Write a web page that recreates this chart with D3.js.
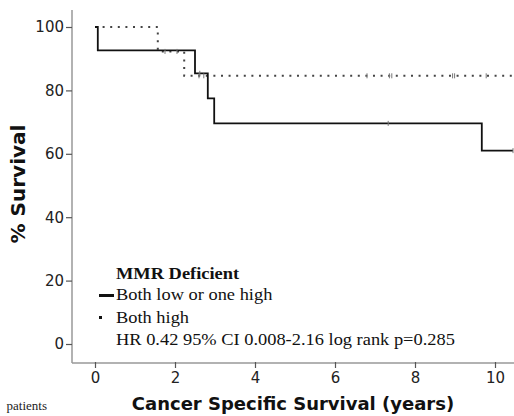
<!DOCTYPE html>
<html>
<head>
<meta charset="utf-8">
<script src="https://d3js.org/d3.v7.min.js"></script>
<style>
  body { margin: 0; background: #fff; }
  svg { display: block; }
</style>
</head>
<body>
<svg width="514" height="416"></svg>
<script>
// survival steps (time in years, % surviving)
const solidTimes = [0, 0.07, 2.5, 2.82, 2.98, 9.67, 10.45];
const solidSurv = [100, 92.6, 85.4, 77.5, 69.6, 61.0, 61.0];
const solidCensored = [[2.62, 85.4], [7.33, 69.6], [10.45, 61.0]];

const dottedTimes = [0, 1.57, 2.23, 10.5];
const dottedSurv = [100, 92.3, 84.6, 84.6];
const dottedCensored = [[1.75, 92.3], [2.05, 92.3], [2.6, 84.6], [2.72, 84.6],
  [6.8, 84.6], [7.36, 84.6], [7.42, 84.6], [8.94, 84.6], [8.99, 84.6], [9.78, 84.6]];

const xTicks = [0, 2, 4, 6, 8, 10];
const yTicks = [0, 20, 40, 60, 80, 100];

const legendTitle = 'MMR Deficient';
const legendLabels = ['Both low or one high', 'Both high'];
const statsText = 'HR 0.42 95% CI 0.008-2.16 log rank p=0.285';

let svg = d3.select('svg');

let x = d3.scaleLinear().domain([0, 10]).range([95, 495]);
let y = d3.scaleLinear().domain([0, 100]).range([344, 27]);

let axisLeftX = 72;
let axisBottomY = 363;

// axis lines
svg.append('line')
  .attr('x1', axisLeftX).attr('x2', axisLeftX)
  .attr('y1', 10).attr('y2', axisBottomY)
  .attr('stroke', '#999').attr('stroke-width', 1.5);
svg.append('line')
  .attr('x1', axisLeftX).attr('x2', 514)
  .attr('y1', axisBottomY).attr('y2', axisBottomY)
  .attr('stroke', '#999').attr('stroke-width', 1.5);

let yAxis = svg.append('g')
  .attr('transform', `translate(${axisLeftX},0)`)
  .call(d3.axisLeft(y).tickValues(yTicks).tickSize(6).tickPadding(2));
yAxis.select('.domain').remove();

let xAxis = svg.append('g')
  .attr('transform', `translate(0,${axisBottomY - 1})`)
  .call(d3.axisBottom(x).tickValues(xTicks).tickSize(6).tickPadding(4));
xAxis.select('.domain').remove();

svg.selectAll('.tick line').attr('stroke', '#555').attr('stroke-width', 1.2);
svg.selectAll('.tick text')
  .attr('fill', '#222')
  .style('font-family', 'DejaVu Sans, sans-serif')
  .style('font-size', '15px');

// step curves
let line = d3.line()
  .x(d => x(d[0]))
  .y(d => y(d[1]))
  .curve(d3.curveStepAfter);

let solidData = solidTimes.map((t, i) => [t, solidSurv[i]]);
let dottedData = dottedTimes.map((t, i) => [t, dottedSurv[i]]);

svg.append('path')
  .datum(dottedData)
  .attr('d', line)
  .attr('fill', 'none')
  .attr('stroke', '#444')
  .attr('stroke-width', 2)
  .attr('stroke-dasharray', '2,5.6');

svg.append('path')
  .datum(solidData)
  .attr('d', line)
  .attr('fill', 'none')
  .attr('stroke', '#111')
  .attr('stroke-width', 1.8);

// censor ticks
svg.selectAll('.censor')
  .data(solidCensored.concat(dottedCensored))
  .enter().append('line')
  .attr('class', 'censor')
  .attr('x1', d => x(d[0])).attr('x2', d => x(d[0]))
  .attr('y1', d => y(d[1]) - 2.5).attr('y2', d => y(d[1]) + 2.5)
  .attr('stroke', '#777')
  .attr('stroke-width', 1);

// legend (text in the source is a bit stretched sideways)
let legend = svg.append('g')
  .style('font-family', 'Liberation Serif, Times New Roman, serif')
  .style('font-size', '16px')
  .attr('fill', '#111');

let legendText = (str, ty) => legend.append('text')
  .attr('transform', `translate(116,${ty}) scale(1.15,1)`)
  .text(str);

legendText(legendTitle, 279).style('font-weight', 'bold');

legend.append('rect')
  .attr('x', 99).attr('y', 294).attr('width', 15).attr('height', 3)
  .attr('fill', '#111');
legendText(legendLabels[0], 300);

legend.append('rect')
  .attr('x', 99).attr('y', 316).attr('width', 3).attr('height', 3)
  .attr('fill', '#111');
legendText(legendLabels[1], 322.5);

legendText(statsText, 345);

// axis titles
svg.append('text')
  .attr('x', 293).attr('y', 410)
  .attr('text-anchor', 'middle')
  .style('font-family', 'DejaVu Sans, sans-serif')
  .style('font-weight', 'bold')
  .style('font-size', '18px')
  .attr('fill', '#111')
  .text('Cancer Specific Survival (years)');

svg.append('text')
  .attr('transform', 'translate(25,184) rotate(-90)')
  .attr('text-anchor', 'middle')
  .style('font-family', 'DejaVu Sans, sans-serif')
  .style('font-weight', 'bold')
  .style('font-size', '20px')
  .attr('fill', '#111')
  .text('% Survival');

// stray caption fragment cut off at the left edge
svg.append('text')
  .attr('x', 47).attr('y', 410)
  .attr('text-anchor', 'end')
  .style('font-family', 'Liberation Serif, serif')
  .style('font-size', '13px')
  .attr('fill', '#222')
  .text('patients');
</script>
</body>
</html>
